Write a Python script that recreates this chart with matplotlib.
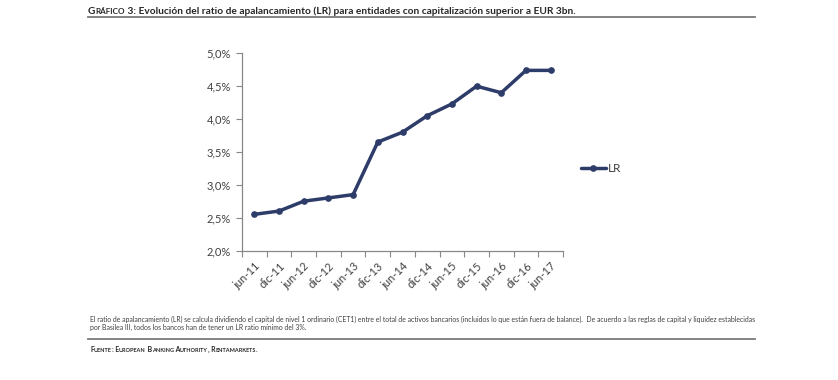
import matplotlib
matplotlib.use('Agg')
import matplotlib.pyplot as plt
from matplotlib.lines import Line2D
from matplotlib.ticker import FuncFormatter, FixedLocator

# ---- data ----
categories = ['jun-11', 'dic-11', 'jun-12', 'dic-12', 'jun-13', 'dic-13', 'jun-14',
              'dic-14', 'jun-15', 'dic-15', 'jun-16', 'dic-16', 'jun-17']
lr_values = [2.55, 2.60, 2.75, 2.80, 2.85, 3.65, 3.80, 4.05, 4.23, 4.50, 4.40, 4.74, 4.74]
series_name = 'LR'
y_ticks = [2.0, 2.5, 3.0, 3.5, 4.0, 4.5, 5.0]

title_prefix = 'Gráfico'
title_rest = ' 3: Evolución del ratio de apalancamiento (LR) para entidades con capitalización superior a EUR 3bn.'
note_line1 = ('El ratio de apalancamiento (LR) se calcula dividiendo el capital de nivel 1 ordinario (CET1) '
              'entre el total de activos bancarios (incluidos lo que están fuera de balance).  De acuerdo a las '
              'reglas de capital y liquidez establecidas')
note_line2 = 'por Basilea III, todos los bancos han de tener un LR ratio mínimo del 3%.'
source_text = 'Fuente: European Banking Authority, Rentamarkets.'

plt.rcParams['font.family'] = ['Lato', 'DejaVu Sans']

W, H = 838, 380
fig = plt.figure(figsize=(W / 100, H / 100), dpi=100)
renderer = fig.canvas.get_renderer()

line_color = '#2E3C6A'
text_color = '#404040'
axis_color = '#888888'

# ---- axes ----
ax = fig.add_axes([242 / W, 1 - 250.5 / H, (563 - 242) / W, (250.5 - 53.3) / H])
x = list(range(len(categories)))
ax.plot(x, lr_values, color=line_color, lw=2.5, marker='o', markersize=3.8,
        markerfacecolor=line_color, markeredgecolor=line_color, label=series_name,
        solid_capstyle='round')
ax.set_xlim(-0.5, len(categories) - 0.5)
ax.set_ylim(2.0, 5.0)
ax.yaxis.set_major_locator(FixedLocator(y_ticks))
ax.yaxis.set_major_formatter(FuncFormatter(lambda v, p: f'{v:.1f}'.replace('.', ',') + '%'))
ax.set_xticks(x)
ax.set_xticklabels(categories, rotation=45, ha='right', va='top', rotation_mode='anchor')
ax.set_xticks([i - 0.5 for i in range(len(categories) + 1)], minor=True)
ax.tick_params(axis='x', which='major', length=0, pad=7, labelsize=8, labelcolor=text_color)
ax.tick_params(axis='x', which='minor', length=4, width=0.8, color=axis_color, direction='out')
ax.tick_params(axis='y', which='major', length=4, width=0.8, color=axis_color, direction='out',
               pad=4, labelsize=8, labelcolor=text_color)
for s in ['top', 'right']:
    ax.spines[s].set_visible(False)
for s in ['left', 'bottom']:
    ax.spines[s].set_color(axis_color)
    ax.spines[s].set_linewidth(0.9)

leg = ax.legend(loc='center left', bbox_to_anchor=(581 / W, 1 - 169 / H),
                bbox_transform=fig.transFigure, frameon=False, borderpad=0,
                borderaxespad=0, handlelength=2.1, handletextpad=0.2, fontsize=8.5)
for t in leg.get_texts():
    t.set_color(text_color)


# ---- text helpers ----
def raw_width(text, size, weight):
    t = fig.text(0, 0, text, fontsize=size, fontweight=weight)
    w = t.get_window_extent(renderer).width
    t.remove()
    return w


def width(text, size, weight):
    return raw_width('x' + text + 'x', size, weight) - raw_width('xx', size, weight)


def smallcaps(s, weight='bold', rel=0.8):
    runs = []
    for ch in s:
        if ch.isalpha() and ch.islower():
            key, c = rel, ch.upper()
        else:
            key, c = 1.0, ch
        if runs and runs[-1][1] == key:
            runs[-1][0] += c
        else:
            runs.append([c, key, weight])
    return runs


def draw_runs(x0, ybase, runs, target_w, base, color):
    total = sum(width(t, base * r, wt) for t, r, wt in runs)
    k = target_w / total
    xx = x0
    for t, r, wt in runs:
        s = base * r * k
        fig.text(xx / W, 1 - ybase / H, t, fontsize=s, fontweight=wt, color=color,
                 ha='left', va='baseline')
        xx += width(t, s, wt)
    return base * k


# title
title_runs = smallcaps(title_prefix) + [[title_rest, 1.0, 'bold']]
draw_runs(88, 13.8, title_runs, 489, 8, '#262626')

# note
ns = draw_runs(90, 322.3, [[note_line1, 1.0, 'normal']], 668, 5, text_color)
fig.text(90 / W, 1 - 329.8 / H, note_line2, fontsize=ns, color=text_color, ha='left', va='baseline')

# source
draw_runs(90, 351.5, smallcaps(source_text), 166, 7, '#262626')

# rules
fig.add_artist(Line2D([88 / W, 755 / W], [1 - 17.3 / H] * 2, color='#7a7a7a', lw=1.3))
fig.add_artist(Line2D([88 / W, 755 / W], [1 - 338.8 / H] * 2, color='#7a7a7a', lw=1.3))

fig.savefig('out.png', dpi=100)
